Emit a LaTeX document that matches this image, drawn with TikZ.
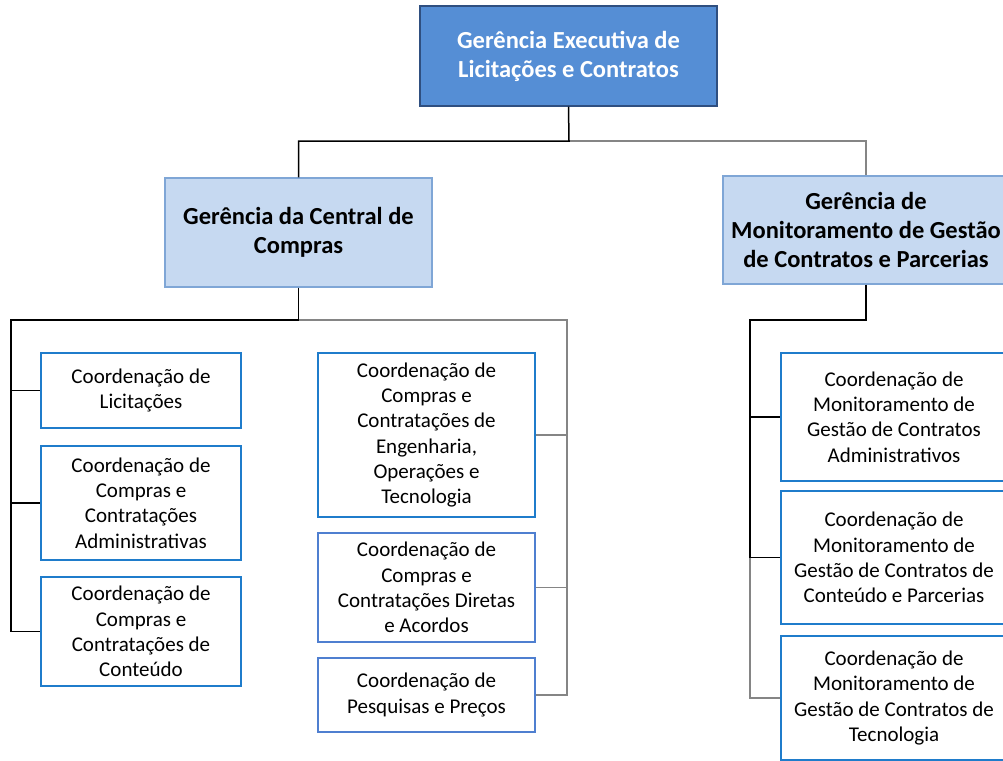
\documentclass[tikz,border=0pt]{standalone}
\usepackage{fontspec}
\setmainfont{Carlito}
\definecolor{topfill}{HTML}{558ED5}
\definecolor{topdraw}{HTML}{2F4F80}
\definecolor{midfill}{HTML}{C6D9F1}
\definecolor{middraw}{HTML}{7FA6D6}
\definecolor{coordraw}{HTML}{1F7CCB}
\definecolor{coordraw2}{HTML}{4F7FD0}
\definecolor{linegray}{HTML}{858585}
\tikzset{
  topbox/.style={draw=topdraw, line width=1.2pt, fill=topfill, text=white, align=center,
    font=\fontsize{24.5}{29}\selectfont\bfseries, inner sep=0pt},
  midbox/.style={draw=middraw, line width=1.2pt, fill=midfill, text=black, align=center,
    font=\fontsize{24.5}{29}\selectfont\bfseries, inner sep=0pt},
  coordbox/.style={draw=coordraw, line width=1.6pt, fill=white, align=center,
    font=\fontsize{21}{25.2}\selectfont, inner sep=0pt},
  blk/.style={draw=black, line width=1.5pt},
  gry/.style={draw=linegray, line width=1.3pt},
}
\begin{document}
\begin{tikzpicture}[x=1pt,y=-1pt]
\useasboundingbox (0,0) rectangle (1003,760);
\clip (0,0) rectangle (1003,760);
% top
\node[topbox, minimum width=297, minimum height=100] (top) at (568.5,56) {Gerência Executiva de\\Licitações e Contratos};
% managers
\node[midbox, minimum width=267, minimum height=109] (ml) at (298.5,232.5) {Gerência da Central de\\Compras};
\node[midbox, minimum width=286, minimum height=108] (mr) at (866,230) {Gerência de\\Monitoramento de Gestão\\de Contratos e Parcerias};
% left column
\node[coordbox, minimum width=200, minimum height=75] (L1) at (141,390.5) {Coordenação de\\Licitações};
\node[coordbox, minimum width=200, minimum height=114] (L2) at (141,503) {Coordenação de\\Compras e\\Contratações\\Administrativas};
\node[coordbox, minimum width=200, minimum height=109] (L3) at (141,631.5) {Coordenação de\\Compras e\\Contratações de\\Conteúdo};
% middle column
\node[coordbox, minimum width=217, minimum height=164] (M1) at (426.5,435) {Coordenação de\\Compras e\\Contratações de\\Engenharia,\\Operações e\\Tecnologia};
\node[coordbox, draw=coordraw2, minimum width=217, minimum height=109] (M2) at (426.5,587.5) {Coordenação de\\Compras e\\Contratações Diretas\\e Acordos};
\node[coordbox, draw=coordraw2, minimum width=217, minimum height=74] (M3) at (426.5,695) {Coordenação de\\Pesquisas e Preços};
% right column
\node[coordbox, minimum width=226, minimum height=128] (R1) at (894,417) {Coordenação de\\Monitoramento de\\Gestão de Contratos\\Administrativos};
\node[coordbox, minimum width=226, minimum height=133] (R2) at (894,557.5) {Coordenação de\\Monitoramento de\\Gestão de Contratos de\\Conteúdo e Parcerias};
\node[coordbox, minimum width=226, minimum height=124] (R3) at (894,698) {Coordenação de\\Monitoramento de\\Gestão de Contratos de\\Tecnologia};
% junction points
\coordinate (j1) at (569,141);
\coordinate (j2) at (11,320);
\coordinate (j3) at (567,320);
\coordinate (j4) at (750,320);
% top connectors
\draw[gry] (j1) -| (mr.north);
\draw[blk] (top.south) -- (j1) -| (ml.north);
% left subtree
\draw[gry] (ml.south |- j2) -- (j3) |- (M3.east);
\draw[gry] (j3) |- (M1.east);
\draw[gry] (j3) |- (M2.east);
\draw[blk] (ml.south) |- (j2) |- (L1.west);
\draw[blk] (j2) |- (L2.west);
\draw[blk] (j2) |- (L3.west);
% right subtree
\draw[gry] (j4 |- R2.west) |- (R3.west);
\draw[blk] (mr.south) |- (j4) |- (R1.west);
\draw[blk] (j4) |- (R2.west);
\end{tikzpicture}
\end{document}
